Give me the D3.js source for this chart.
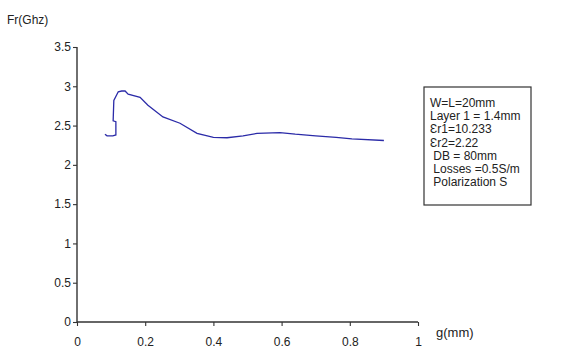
<!DOCTYPE html>
<html>
<head>
<meta charset="utf-8">
<script src="https://cdnjs.cloudflare.com/ajax/libs/d3/7.8.5/d3.min.js"></script>
<style>
  body { margin: 0; background: #fff; overflow: hidden; }
  text { font-family: "Liberation Sans", Arial, sans-serif; fill: #222; }
</style>
</head>
<body>
<div id="chart"></div>
<script>
// g (mm) along the curve, in drawing order (the curve folds back a little near the jump)
var gVals = [0.082, 0.088, 0.105, 0.114, 0.114, 0.106, 0.108, 0.121, 0.131, 0.141, 0.150, 0.185, 0.208,
             0.252, 0.302, 0.352, 0.40, 0.44, 0.487, 0.528, 0.595, 0.64, 0.70, 0.76, 0.806, 0.90];
var frVals = [2.39, 2.37, 2.37, 2.38, 2.55, 2.56, 2.82, 2.93, 2.94, 2.94, 2.90, 2.86, 2.76,
              2.61, 2.53, 2.40, 2.35, 2.345, 2.37, 2.40, 2.41, 2.39, 2.37, 2.35, 2.33, 2.31];
var xTicks = [0, 0.2, 0.4, 0.6, 0.8, 1];
var yTicks = [0, 0.5, 1, 1.5, 2, 2.5, 3, 3.5];
var legendLines = ["W=L=20mm", "Layer 1 = 1.4mm", "\u0190r1=10.233", "\u0190r2=2.22",
                   " DB = 80mm", " Losses =0.5S/m", " Polarization S"];

var width = 576, height = 346;

var svg = d3.select('#chart')
    .append('svg')
    .attr('width', width)
    .attr('height', height);

var x = d3.scaleLinear().domain([0, 1]).range([77, 418]);
var y = d3.scaleLinear().domain([0, 3.5]).range([322, 47]);

//y axis, ticks pointing left
var yAxis = d3.axisLeft(y).tickValues(yTicks).tickSize(4).tickPadding(2)
    .tickFormat(d3.format(''));
var gy = svg.append('g')
    .attr('transform', 'translate(' + x(0) + ',0)')
    .call(yAxis);

//x axis, ticks pointing down
var xAxis = d3.axisBottom(x).tickValues(xTicks).tickSize(4).tickPadding(11)
    .tickFormat(d3.format(''));
var gx = svg.append('g')
    .attr('transform', 'translate(0,' + y(0) + ')')
    .call(xAxis);

[gx, gy].forEach(function (g) {
    g.select('.domain').attr('stroke', '#333').attr('stroke-width', 1.4);
    g.selectAll('.tick line').attr('stroke', '#333').attr('stroke-width', 1.1);
    g.selectAll('.tick text')
        .style('font-family', '"Liberation Sans", Arial, sans-serif')
        .style('font-size', '12px')
        .attr('fill', '#222');
});
gy.select('.domain').attr('d', 'M0,' + y(3.5) + 'V' + y(0));
gx.select('.domain').attr('d', 'M' + x(0) + ',0H' + x(1));

svg.append('text')
    .attr('x', 7)
    .attr('y', 24)
    .style('font-size', '12px')
    .text('Fr(Ghz)');

svg.append('text')
    .attr('x', 436)
    .attr('y', 337)
    .style('font-size', '13px')
    .text('g(mm)');

var line = d3.line()
    .x(function (d) { return x(d[0]); })
    .y(function (d) { return y(d[1]); });

svg.append('path')
    .datum(d3.zip(gVals, frVals))
    .attr('d', line)
    .attr('fill', 'none')
    .attr('stroke', '#2b2ba8')
    .attr('stroke-width', 1.3);

//parameter box
svg.append('rect')
    .attr('x', 424)
    .attr('y', 87)
    .attr('width', 107)
    .attr('height', 118)
    .attr('fill', '#fff')
    .attr('stroke', '#333')
    .attr('stroke-width', 1.2);

svg.selectAll('.leg').data(legendLines)
    .enter().append('text')
    .attr('class', 'leg')
    .attr('x', 430)
    .attr('y', function (d, i) { return 107 + i * 13.2; })
    .style('font-size', '12px')
    .style('white-space', 'pre')
    .text(function (d) { return d; });
</script>
</body>
</html>
